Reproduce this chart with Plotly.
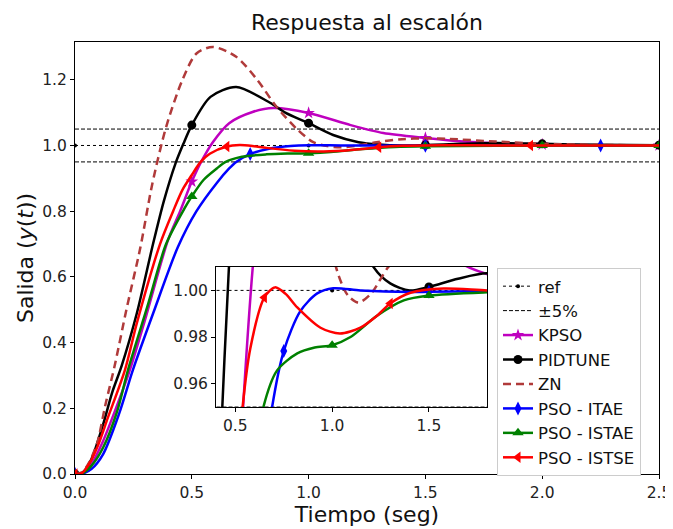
import plotly.graph_objects as go

# ---------------- data ----------------
# ZN (Ziegler-Nichols) response
t_zn = [0, 0.03, 0.06, 0.095, 0.13, 0.17, 0.22, 0.28, 0.33, 0.39, 0.46, 0.52, 0.59, 0.69,
        0.78, 0.86, 0.95, 1.02, 1.08, 1.136, 1.2, 1.29, 1.4, 1.5, 1.6, 1.8, 2.0, 2.25, 2.5]
y_zn = [0, 0.005, 0.035, 0.094, 0.21, 0.33, 0.5, 0.69, 0.88, 1.056, 1.2, 1.28, 1.30, 1.27,
        1.2, 1.12, 1.05, 1.01, 0.998, 0.9948, 0.9985, 1.01, 1.019, 1.022, 1.02, 1.012, 1.005, 1.002, 1.0]

# PIDTUNE response
t_pid = [0, 0.03, 0.07, 0.12, 0.16, 0.2, 0.265, 0.334, 0.38, 0.43, 0.464, 0.5, 0.58, 0.69,
         0.835, 0.9, 1.0, 1.105, 1.214, 1.3, 1.4, 1.5, 1.65, 1.8, 2.0, 2.25, 2.5]
y_pid = [0, 0.003, 0.045, 0.15, 0.25, 0.33, 0.49, 0.70, 0.83, 0.945, 1.005, 1.062, 1.148, 1.178,
         1.13, 1.10, 1.068, 1.032, 1.01, 1.003, 1.0, 1.0015, 1.005, 1.0073, 1.005, 1.002, 1.001]

# KPSO response
t_kp = [0, 0.03, 0.07, 0.12, 0.17, 0.235, 0.3, 0.398, 0.45, 0.5, 0.54, 0.59, 0.66, 0.76,
        0.85, 1.0, 1.18, 1.32, 1.5, 1.68, 1.8, 2.0, 2.25, 2.5]
y_kp = [0, 0.003, 0.03, 0.1, 0.19, 0.317, 0.47, 0.712, 0.80, 0.89, 0.95, 1.01, 1.068, 1.102,
        1.114, 1.099, 1.062, 1.038, 1.023, 1.011, 1.007, 1.003, 1.001, 1.0]

# PSO - ITAE response
t_ia = [0, 0.03, 0.07, 0.12, 0.19, 0.248, 0.335, 0.44, 0.52, 0.607, 0.66, 0.69, 0.75, 0.835,
        0.923, 1.006, 1.146, 1.4, 1.5, 1.75, 2.0, 2.25, 2.5]
y_ia = [0, 0.001, 0.015, 0.06, 0.186, 0.317, 0.49, 0.69, 0.80, 0.886, 0.93, 0.95, 0.974, 0.991,
        0.9987, 1.0009, 1.0, 0.9993, 0.9994, 0.9997, 1.0, 1.0, 1.0]

# PSO - ISTAE response
t_sa = [0, 0.03, 0.07, 0.12, 0.18, 0.227, 0.31, 0.39, 0.47, 0.5, 0.55, 0.607, 0.645, 0.715,
        0.82, 0.91, 1.0, 1.095, 1.23, 1.37, 1.5, 1.8, 2.0, 2.25, 2.5]
y_sa = [0, 0.002, 0.025, 0.08, 0.19, 0.317, 0.51, 0.70, 0.81, 0.845, 0.895, 0.93, 0.95, 0.9656,
        0.973, 0.9755, 0.9765, 0.980, 0.989, 0.9957, 0.9978, 0.9992, 0.9996, 0.9999, 1.0]

# PSO - ISTSE response
t_st = [0, 0.03, 0.06, 0.1, 0.14, 0.214, 0.265, 0.364, 0.42, 0.46, 0.5, 0.535, 0.577, 0.65,
        0.705, 0.76, 0.82, 0.94, 1.04, 1.146, 1.23, 1.3, 1.405, 1.576, 1.8, 1.95, 2.2, 2.5]
y_st = [0, 0.003, 0.03, 0.09, 0.17, 0.317, 0.46, 0.70, 0.80, 0.865, 0.91, 0.948, 0.975, 0.997,
        1.0013, 0.9985, 0.9927, 0.984, 0.9815, 0.984, 0.989, 0.9944, 0.999, 1.0008, 1.0, 1.0, 1.0, 1.0]

# reference and +-5% band
t_ref = [0, 0.5, 1.0, 1.5, 2.0, 2.5]
y_ref = [1.0, 1.0, 1.0, 1.0, 1.0, 1.0]
band_hi = [1.05] * len(t_ref)
band_lo = [0.95] * len(t_ref)

# marker sample times
mk_ref = [0, 1.0, 2.0]
mk_kp = [0, 0.5, 1.0, 1.5, 2.0, 2.5]
mk_pid = [0, 0.5, 1.0, 1.5, 2.0, 2.5]
mk_ia = [0, 0.75, 1.5, 2.25]
mk_sa = [0, 0.5, 1.0, 1.5, 2.0, 2.5]
mk_st = [0, 0.65, 1.3, 1.95]

x_ticks = [0.0, 0.5, 1.0, 1.5, 2.0, 2.5]
y_ticks = [0.0, 0.2, 0.4, 0.6, 0.8, 1.0, 1.2]
xi_ticks = [0.5, 1.0, 1.5]
yi_ticks = [0.96, 0.98, 1.00]

# ---------------- styles ----------------
FONT = "DejaVu Sans"
series = [
    dict(name="KPSO", t=t_kp, y=y_kp, mk=mk_kp, color="#BF00BF", symbol="star", ms=9.5, dash="solid"),
    dict(name="PIDTUNE", t=t_pid, y=y_pid, mk=mk_pid, color="#000000", symbol="circle", ms=9, dash="solid"),
    dict(name="ZN", t=t_zn, y=y_zn, mk=None, color="#B03A3A", symbol=None, ms=0, dash="8px,5px"),
    dict(name="PSO - ITAE", t=t_ia, y=y_ia, mk=mk_ia, color="#0000FF", symbol="diamond-tall", ms=10, dash="solid"),
    dict(name="PSO - ISTAE", t=t_sa, y=y_sa, mk=mk_sa, color="#008000", symbol="triangle-up", ms=10, dash="solid"),
    dict(name="PSO - ISTSE", t=t_st, y=y_st, mk=mk_st, color="#FF0000", symbol="triangle-left", ms=10, dash="solid"),
]


def pick(t, y, times):
    lut = dict(zip(t, y))
    return [tt for tt in times], [lut[tt] for tt in times]


fig = go.Figure()

for xa, ya in (("x", "y"), ("x2", "y2")):
    fig.add_trace(go.Scatter(x=t_ref, y=y_ref, mode="lines", xaxis=xa, yaxis=ya,
                             line=dict(color="black", width=1, dash="dot"), showlegend=False, hoverinfo="skip"))
    mx, my = pick(t_ref, y_ref, mk_ref)
    fig.add_trace(go.Scatter(x=mx, y=my, mode="markers", xaxis=xa, yaxis=ya,
                             marker=dict(color="black", size=4), showlegend=False, hoverinfo="skip"))
    for band in (band_hi, band_lo):
        fig.add_trace(go.Scatter(x=t_ref, y=band, mode="lines", xaxis=xa, yaxis=ya,
                                 line=dict(color="black", width=1, dash="4px,2px"), showlegend=False,
                                 hoverinfo="skip"))
    for s in series:
        fig.add_trace(go.Scatter(x=s["t"], y=s["y"], mode="lines", xaxis=xa, yaxis=ya,
                                 line=dict(color=s["color"], width=2.5, dash=s["dash"], shape="spline",
                                           smoothing=0.8),
                                 showlegend=False, name=s["name"]))
        if s["mk"]:
            mx, my = pick(s["t"], s["y"], s["mk"])
            fig.add_trace(go.Scatter(x=mx, y=my, mode="markers", xaxis=xa, yaxis=ya,
                                     marker=dict(color=s["color"], symbol=s["symbol"], size=s["ms"]),
                                     showlegend=False, name=s["name"], cliponaxis=True))

# legend-only entries
fig.add_trace(go.Scatter(x=[None], y=[None], mode="lines+markers", name="ref", legendgroup="g0",
                         line=dict(color="black", width=1, dash="dot"), marker=dict(color="black", size=4)))
fig.add_trace(go.Scatter(x=[None], y=[None], mode="lines", name="±5%", legendgroup="g1",
                         line=dict(color="black", width=1, dash="4px,2px")))
for i, s in enumerate(series):
    if s["mk"]:
        fig.add_trace(go.Scatter(x=[None], y=[None], mode="lines+markers", name=s["name"],
                                 legendgroup="g%d" % (i + 2),
                                 line=dict(color=s["color"], width=2.5),
                                 marker=dict(color=s["color"], symbol=s["symbol"], size=s["ms"])))
    else:
        fig.add_trace(go.Scatter(x=[None], y=[None], mode="lines", name=s["name"],
                                 legendgroup="g%d" % (i + 2),
                                 line=dict(color=s["color"], width=2.5, dash=s["dash"])))

axis_common = dict(showgrid=False, zeroline=False, showline=True, mirror=True, linecolor="black",
                   linewidth=1, ticks="outside", ticklen=4, tickcolor="black", automargin=False,
                   tickfont=dict(family=FONT, size=15.5, color="#222"))

# the page adds an 8px body margin, so the figure is sized/positioned to compensate
W, H = 665, 521
fig.update_layout(
    width=W, height=H,
    margin=dict(l=67, r=14, t=34, b=55),
    paper_bgcolor="white", plot_bgcolor="white",
    title=dict(text="Respuesta al escalón", x=0.5, xref="paper", y=1 - 14 / H, yref="container",
               xanchor="center", yanchor="middle", font=dict(family=FONT, size=22, color="#111")),
    xaxis=dict(range=[0, 2.5], tickvals=x_ticks, tickformat=".1f",
               title=dict(text="Tiempo (seg)", font=dict(family=FONT, size=22, color="#111"), standoff=4),
               **axis_common),
    yaxis=dict(range=[0, 1.315], tickvals=y_ticks, tickformat=".1f",
               title=dict(text="Salida (<i>y</i>(<i>t</i>))", font=dict(family=FONT, size=22, color="#111"),
                          standoff=2),
               **axis_common),
    xaxis2=dict(domain=[0.2414, 0.7055], anchor="y2", range=[0.4, 1.8], tickvals=xi_ticks, tickformat=".1f",
                **axis_common),
    yaxis2=dict(domain=[0.155, 0.479], anchor="x2", range=[0.95, 1.01], tickvals=yi_ticks, tickformat=".2f",
                **axis_common),
    legend=dict(x=0.7226, y=0.477, xanchor="left", yanchor="top", bgcolor="white",
                bordercolor="#cccccc", borderwidth=1, font=dict(family=FONT, size=16.5, color="#111"),
                tracegroupgap=0, itemwidth=30),
    showlegend=True,
)

fig.write_html("out.html")
